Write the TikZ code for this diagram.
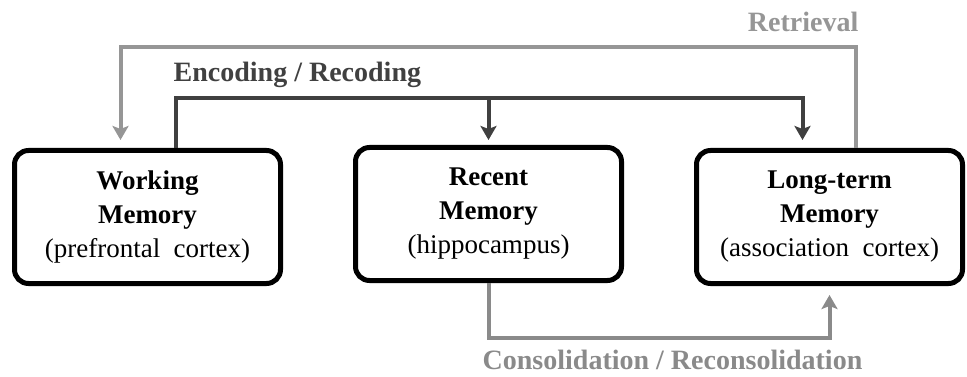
\documentclass[tikz,border=0pt]{standalone}
\usepackage{fontspec}
\setmainfont{Liberation Serif}
\usetikzlibrary{positioning,arrows.meta}

\definecolor{retrgray}{RGB}{150,150,150}
\definecolor{encgray}{RGB}{64,64,64}
\definecolor{consgray}{RGB}{138,138,138}

\tikzset{
    membox/.style={draw=black, line width=5pt, rounded corners=14pt,
        minimum width=266pt, minimum height=133pt, align=center,
        font=\fontsize{27}{34}\selectfont},
    flow/.style={line width=4pt, -{Stealth[width=16pt,length=14pt,inset=3pt]}},
    flowlabel/.style={inner sep=0pt, font=\fontsize{28}{34}\selectfont\bfseries},
}

\begin{document}
\begin{tikzpicture}[x=1pt, y=-1pt]
    \useasboundingbox (0,0) rectangle (967,377);

    \node [membox] (wm) at (147.5,217) {\textbf{Working}\\\textbf{Memory}\\(prefrontal\ \ cortex)};
    \node [membox, right=70pt of wm, yshift=3pt] (rm) {\textbf{Recent}\\\textbf{Memory}\\(hippocampus)};
    \node [membox, right=70pt of rm, yshift=-3pt] (ltm) {\textbf{Long-term}\\\textbf{Memory}\\(association\ \ cortex)};

    % retrieval
    \draw [flow, retrgray, shorten >=8pt] ([xshift=26pt]ltm.north) -- ++(0,-101) coordinate (retr) -| ([xshift=-27pt]wm.north);
    \node [flowlabel, retrgray, anchor=base east, xshift=3pt, yshift=15pt] at (retr) {Retrieval};

    % encoding / recoding
    \draw [flow, encgray, shorten >=8pt] ([xshift=28pt]wm.north) -- ++(0,-50) coordinate (enc) -| ([xshift=-27pt]ltm.north);
    \draw [flow, encgray, shorten >=5pt] (enc -| rm.north) -- (rm.north);
    \node [flowlabel, encgray, anchor=base west, xshift=-2pt, yshift=16pt] at (enc) {Encoding / Recoding};

    % consolidation
    \draw [flow, consgray, shorten >=9pt] (rm.south) -- ++(0,55) coordinate (cons) -| (ltm.south);
    \node [flowlabel, consgray, anchor=base west, xshift=-6pt, yshift=-31pt] at (cons) {Consolidation / Reconsolidation};
\end{tikzpicture}
\end{document}
